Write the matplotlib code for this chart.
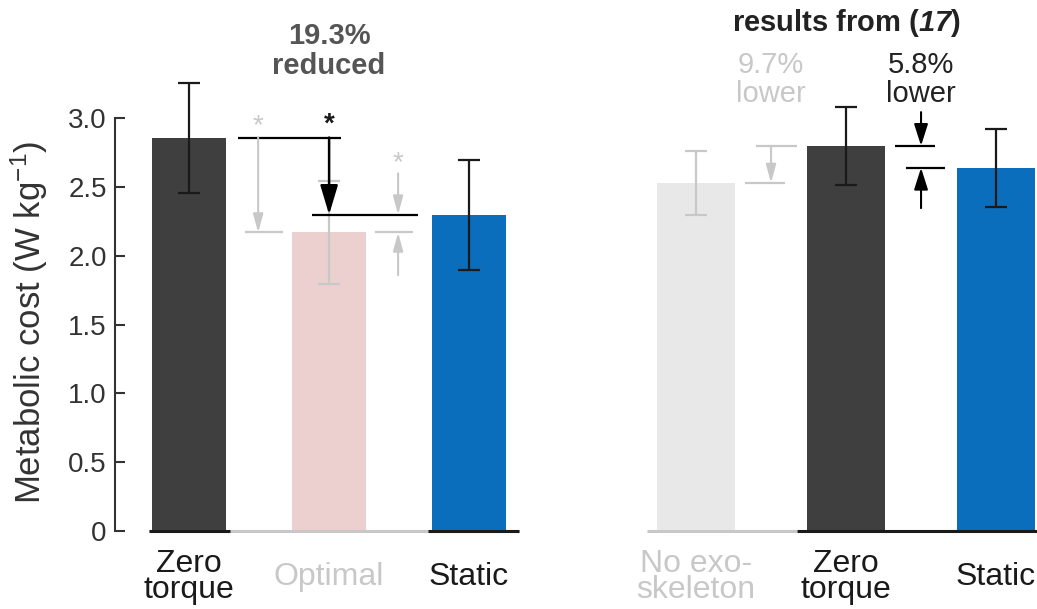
import matplotlib

matplotlib.use("Agg")
import matplotlib.pyplot as plt

plt.rcParams["font.family"] = ["Liberation Sans", "DejaVu Sans"]
plt.rcParams["mathtext.fontset"] = "custom"
plt.rcParams["mathtext.rm"] = "Liberation Sans"
plt.rcParams["mathtext.it"] = "Liberation Sans:italic"
plt.rcParams["mathtext.bf"] = "Liberation Sans:bold"
plt.rcParams["mathtext.bfit"] = "Liberation Sans:italic:bold"

# this study
LEFT_LABELS = ["Zero\ntorque", "Optimal", "Static"]
LEFT_MEANS = [2.86, 2.17, 2.30]
LEFT_ERRS = [0.40, 0.375, 0.40]
# results from (17)
RIGHT_LABELS = ["No exo-\nskeleton", "Zero\ntorque", "Static"]
RIGHT_MEANS = [2.53, 2.80, 2.64]
RIGHT_ERRS = [0.235, 0.285, 0.285]

Y_TICKS = [0, 0.5, 1.0, 1.5, 2.0, 2.5, 3.0]
Y_TICK_LABELS = ["0", "0.5", "1.0", "1.5", "2.0", "2.5", "3.0"]

DARK = "#3f3f3f"
PINK = "#ecd0d0"
BLUE = "#0a6ebd"
PALE = "#e8e8e8"
LIGHT = "#c8c8c8"
INK = "#1a1a1a"

LEFT_COLORS = [DARK, PINK, BLUE]
LEFT_ECOLORS = [INK, LIGHT, INK]
LEFT_TEXT = [INK, LIGHT, INK]
RIGHT_COLORS = [PALE, DARK, BLUE]
RIGHT_ECOLORS = [LIGHT, INK, INK]
RIGHT_TEXT = [LIGHT, INK, INK]

YTOP = 3.86


def arrow(ax, x, y0, y1, color, scale, hl, hw, lw=1.5):
    ax.annotate("", xy=(x, y1), xytext=(x, y0),
                arrowprops=dict(arrowstyle=f"-|>,head_length={hl},head_width={hw}",
                                mutation_scale=scale, color=color, lw=lw,
                                shrinkA=0, shrinkB=0))


def draw_bars(ax, means, errs, colors, ecolors, labels, text_colors, width):
    xs = list(range(len(means)))
    ax.bar(xs, means, width=width, color=colors, zorder=1)
    for x, m, e, c in zip(xs, means, errs, ecolors):
        ax.errorbar(x, m, yerr=e, fmt="none", ecolor=c, elinewidth=1.6,
                    capsize=8, capthick=1.6, zorder=2)
    ax.set_xticks(xs, labels)
    ax.tick_params(axis="x", length=0, pad=33, labelsize=23)
    for lab, c in zip(ax.get_xticklabels(), text_colors):
        lab.set_color(c)
        lab.set_va("center")
        lab.set_linespacing(0.82)
    ax.set_ylim(0, YTOP)
    for side in ["top", "right", "bottom"]:
        ax.spines[side].set_visible(False)


fig = plt.figure(figsize=(10.37, 6.09), dpi=100)
ax1 = fig.add_axes([115 / 1037, 78 / 609, 445 / 1037, 531 / 609])
ax2 = fig.add_axes([600 / 1037, 78 / 609, 437 / 1037, 531 / 609])

# ---- left panel: this study
draw_bars(ax1, LEFT_MEANS, LEFT_ERRS, LEFT_COLORS, LEFT_ECOLORS,
          LEFT_LABELS, LEFT_TEXT, 0.53)
ax1.set_xlim(-0.53, 2.65)
ax1.spines["left"].set_bounds(0, 3)
ax1.spines["left"].set_linewidth(1.5)
ax1.spines["left"].set_color("#333333")
ax1.set_yticks(Y_TICKS, Y_TICK_LABELS)
ax1.tick_params(axis="y", direction="in", length=7, width=1.5, pad=6,
                labelsize=20, colors="#333333")
ax1.hlines(0, -0.29, 2.36, color=LIGHT, lw=2.2, clip_on=False, zorder=3)
ax1.hlines(0, -0.29, 0.29, color=INK, lw=2.2, clip_on=False, zorder=3)
ax1.hlines(0, 1.71, 2.36, color=INK, lw=2.2, clip_on=False, zorder=3)

zt, opt, st = LEFT_MEANS
# zero torque vs static (black)
ax1.hlines(zt, 0.35, 1.086, color="black", lw=1.6)
ax1.hlines(st, 0.88, 1.636, color="black", lw=1.6)
arrow(ax1, 1.0, zt, st, "black", 20, 0.9, 0.27, lw=1.8)
ax1.text(1.0, 2.90, "*", ha="center", va="baseline", fontsize=20,
         fontweight="bold", color=INK)
# zero torque vs optimal (gray)
arrow(ax1, 0.493, zt, opt, LIGHT, 10, 1.1, 0.3)
ax1.hlines(opt, 0.40, 0.671, color=LIGHT, lw=1.6)
ax1.text(0.493, 2.89, "*", ha="center", va="baseline", fontsize=20,
         color=LIGHT)
# static vs optimal (gray)
ax1.hlines(opt, 1.33, 1.60, color=LIGHT, lw=1.6)
arrow(ax1, 1.493, 2.60, st, LIGHT, 10, 1.1, 0.3)
arrow(ax1, 1.493, 1.86, opt, LIGHT, 10, 1.1, 0.3)
ax1.text(1.493, 2.62, "*", ha="center", va="baseline", fontsize=20,
         color=LIGHT)
ax1.text(1.0, 3.70, "19.3%\nreduced", ha="center", va="top", fontsize=21,
         fontweight="bold", color="#555555", linespacing=1.1)

fig.text(29 / 1037, 1 - 322 / 609, "Metabolic cost (W kg$^{-1}$)", rotation=90,
         ha="center", va="center", fontsize=25, color="#333333")

# ---- right panel: results from (17)
draw_bars(ax2, RIGHT_MEANS, RIGHT_ERRS, RIGHT_COLORS, RIGHT_ECOLORS,
          RIGHT_LABELS, RIGHT_TEXT, 0.52)
ax2.set_xlim(-0.64, 2.273)
ax2.spines["left"].set_visible(False)
ax2.set_yticks([])
ax2.hlines(0, -0.327, 0.673, color=LIGHT, lw=2.2, clip_on=False, zorder=3)
ax2.hlines(0, 0.673, 2.3, color=INK, lw=2.2, clip_on=False, zorder=3)

ne, zt2, st2 = RIGHT_MEANS
ax2.hlines(zt2, 0.40, 0.673, color=LIGHT, lw=1.6)
ax2.hlines(ne, 0.327, 0.593, color=LIGHT, lw=1.6)
arrow(ax2, 0.5, zt2, ne, LIGHT, 10, 1.1, 0.3)
ax2.hlines(zt2, 1.327, 1.593, color="black", lw=1.6)
ax2.hlines(st2, 1.40, 1.66, color="black", lw=1.6)
arrow(ax2, 1.5, 3.045, zt2, "black", 12, 1.1, 0.35)
arrow(ax2, 1.5, 2.347, st2, "black", 12, 1.1, 0.35)

ax2.text(1.0, 3.81, r"results from ($\mathbfit{17}$)", ha="center", va="top",
         fontsize=21, fontweight="bold", color="#222222")
ax2.text(0.5, 3.49, "9.7%\nlower", ha="center", va="top", fontsize=21,
         color=LIGHT, linespacing=1.04)
ax2.text(1.5, 3.49, "5.8%\nlower", ha="center", va="top", fontsize=21,
         color="#222222", linespacing=1.04)

fig.savefig("out.png", dpi=100)
